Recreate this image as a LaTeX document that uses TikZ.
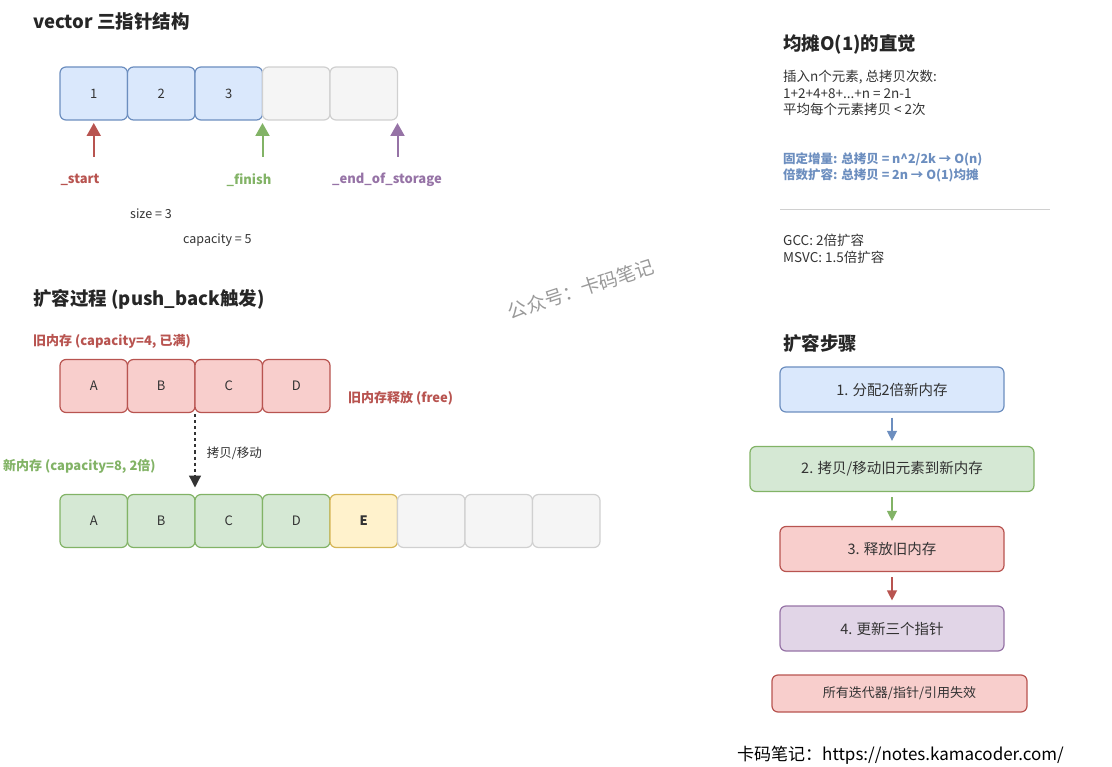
\documentclass[tikz,border=0pt]{standalone}
\usepackage{fontspec}
\setmainfont{Noto Sans CJK SC}
\usetikzlibrary{arrows.meta, positioning}

\definecolor{bluefill}{HTML}{DAE8FC}
\definecolor{bluedraw}{HTML}{6C8EBF}
\definecolor{greenfill}{HTML}{D5E8D4}
\definecolor{greendraw}{HTML}{82B366}
\definecolor{redfill}{HTML}{F8CECC}
\definecolor{reddraw}{HTML}{B85450}
\definecolor{yellowfill}{HTML}{FFF2CC}
\definecolor{yellowdraw}{HTML}{D6B656}
\definecolor{purplefill}{HTML}{E1D5E7}
\definecolor{purpledraw}{HTML}{9673A6}
\definecolor{greyfill}{HTML}{F5F5F5}
\definecolor{greydraw}{HTML}{D0D0D0}
\definecolor{textdark}{HTML}{333333}

\begin{document}
\begin{tikzpicture}[x=1pt, y=-1pt, node distance=0pt, font=\fontsize{13}{15}\selectfont, text=textdark]
    % Node styles
    \tikzstyle{cell} = [rectangle, draw, line width=1.2pt, rounded corners=6pt, minimum width=67.5pt, minimum height=53pt, inner sep=0pt, outer sep=0pt]
    \tikzstyle{bluecell} = [cell, fill=bluefill, draw=bluedraw]
    \tikzstyle{redcell} = [cell, fill=redfill, draw=reddraw]
    \tikzstyle{greencell} = [cell, fill=greenfill, draw=greendraw]
    \tikzstyle{yellowcell} = [cell, fill=yellowfill, draw=yellowdraw]
    \tikzstyle{emptycell} = [cell, fill=greyfill, draw=greydraw]
    \tikzstyle{stepbox} = [rectangle, draw, line width=1.2pt, rounded corners=6pt, minimum height=45pt, font=\fontsize{14.5}{17}\selectfont]
    \tikzstyle{heading} = [anchor=west, inner sep=0pt, text=black!85, font=\bfseries\fontsize{18.5}{22}\selectfont]
    \tikzstyle{boldlbl} = [inner sep=0pt, font=\bfseries\fontsize{13}{15}\selectfont]
    \tikzstyle{bodytxt} = [inner sep=0pt, align=left, font=\fontsize{13.5}{16.5}\selectfont]
    \tikzstyle{ptr} = [line width=2pt, -{Triangle[width=14pt, length=13pt]}, shorten >=3pt]
    \tikzstyle{steparrow} = [line width=1.3pt, -{Triangle[width=10pt, length=10pt]}, shorten >=5pt, shorten <=5pt]

    \useasboundingbox (0,0) rectangle (1112,767);

    % vector three pointers
    \node (title1) [heading] at (33,22) {vector 三指针结构};
    \node (v1) [bluecell] at (93.75,93.5) {1};
    \node (v2) [bluecell, right=of v1] {2};
    \node (v3) [bluecell, right=of v2] {3};
    \node (v4) [emptycell, right=of v3] {};
    \node (v5) [emptycell, right=of v4] {};

    \coordinate (pstart) at (93.75,157);
    \coordinate (pfinish) at (v3.south east |- pstart);
    \coordinate (pend) at (v5.south east |- pstart);
    \draw[ptr, reddraw] (pstart) -- (v1.south);
    \draw[ptr, greendraw] (pfinish) -- (v3.south east);
    \draw[ptr, purpledraw] (pend) -- (v5.south east);

    \node (lstart) [boldlbl, text=reddraw] at (80,180) {\_start};
    \node (lfinish) [boldlbl, text=greendraw] at (249,180) {\_finish};
    \node (lend) [boldlbl, text=purpledraw] at (387,180) {\_end\_of\_storage};

    \node (sizetxt) [bodytxt, anchor=west, font=\fontsize{12.5}{14}\selectfont] at (130,214) {size = 3};
    \node (captxt) [bodytxt, anchor=west, font=\fontsize{12.5}{14}\selectfont] at (183,240) {capacity = 5};

    % growth process
    \node (title2) [heading] at (33,299) {扩容过程 (push\_back触发)};
    \node (oldlbl) [boldlbl, anchor=west, text=reddraw] at (33,341) {旧内存 (capacity=4, 已满)};
    \node (o1) [redcell] at (93.75,386) {A};
    \node (o2) [redcell, right=of o1] {B};
    \node (o3) [redcell, right=of o2] {C};
    \node (o4) [redcell, right=of o3] {D};
    \node (freelbl) [boldlbl, anchor=west, text=reddraw] at (348,398) {旧内存释放 (free)};

    \node (newlbl) [boldlbl, anchor=west, text=greendraw] at (3,466) {新内存 (capacity=8, 2倍)};
    \node (n1) [greencell] at (93.75,521) {A};
    \node (n2) [greencell, right=of n1] {B};
    \node (n3) [greencell, right=of n2] {C};
    \node (n4) [greencell, right=of n3] {D};
    \node (n5) [yellowcell, right=of n4, font=\bfseries\fontsize{13}{15}\selectfont] {E};
    \node (n6) [emptycell, right=of n5] {};
    \node (n7) [emptycell, right=of n6] {};
    \node (n8) [emptycell, right=of n7] {};

    \draw[line width=1.3pt, dashed, draw=black!80, -{Triangle[width=12pt, length=12pt]}, shorten <=2pt, shorten >=7pt] (o2.south east) -- (n2.north east)
        node[midway, right=8pt, font=\fontsize{12.5}{14}\selectfont] {拷贝/移动};

    % watermark
    \node (wmark) [rotate=18, text=black!40, font=\fontsize{19}{22}\selectfont] at (581,289) {公众号：卡码笔记};

    % amortized O(1)
    \node (title3) [heading] at (783,44) {均摊O(1)的直觉};
    \node (amort) [bodytxt, anchor=north west] at (783,70) {插入n个元素, 总拷贝次数:\\1+2+4+8+...+n = 2n-1\\平均每个元素拷贝 < 2次};
    \node (compare) [bodytxt, anchor=north west, text=bluedraw, font=\bfseries\fontsize{12.5}{16.5}\selectfont] at (783,152) {固定增量: 总拷贝 = n\textasciicircum 2/2k → O(n)\\倍数扩容: 总拷贝 = 2n → O(1)均摊};
    \coordinate (divl) at (780,210);
    \coordinate (divr) at (1050,210);
    \draw[line width=1pt, draw=greydraw] (divl) -- (divr);
    \node (impl) [bodytxt, anchor=north west] at (783,234) {GCC: 2倍扩容\\MSVC: 1.5倍扩容};

    % growth steps
    \node (title4) [heading] at (783,343) {扩容步骤};
    \node (s1) [stepbox, fill=bluefill, draw=bluedraw, minimum width=224pt] at (892,389.5) {1. 分配2倍新内存};
    \node (s2) [stepbox, fill=greenfill, draw=greendraw, minimum width=284pt] at (892,469) {2. 拷贝/移动旧元素到新内存};
    \node (s3) [stepbox, fill=redfill, draw=reddraw, minimum width=224pt] at (892,549) {3. 释放旧内存};
    \node (s4) [stepbox, fill=purplefill, draw=purpledraw, minimum width=224pt] at (892,628.5) {4. 更新三个指针};
    \draw[steparrow, bluedraw] (s1) -- (s2);
    \draw[steparrow, greendraw] (s2) -- (s3);
    \draw[steparrow, reddraw] (s3) -- (s4);

    \node (warn) [stepbox, fill=redfill, draw=reddraw, minimum width=255pt, minimum height=37pt, font=\fontsize{13}{15}\selectfont] at (899.5,693.5) {所有迭代器/指针/引用失效};

    \node (footer) [anchor=west, inner sep=0pt, text=black, font=\fontsize{17}{20}\selectfont] at (737,755) {卡码笔记：https://notes.kamacoder.com/};
\end{tikzpicture}
\end{document}
